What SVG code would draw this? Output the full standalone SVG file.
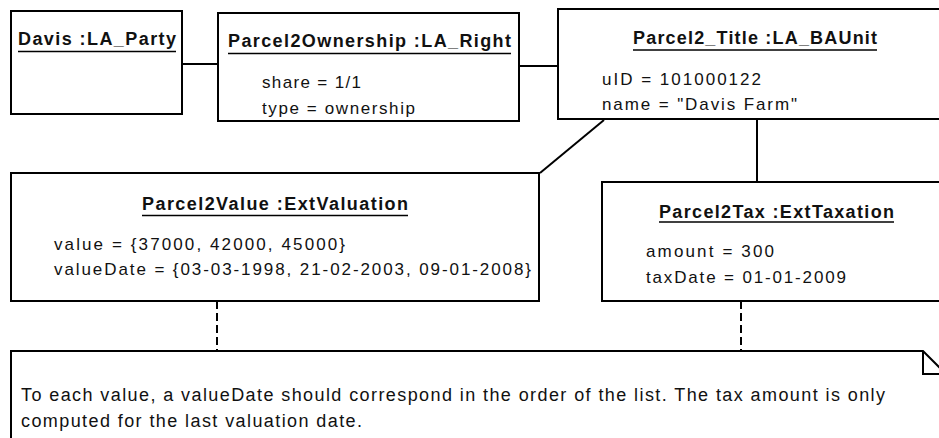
<svg xmlns="http://www.w3.org/2000/svg" width="939" height="438" viewBox="0 0 939 438">
<style>
.box{fill:#fff;stroke:#000;stroke-width:2}
.ul{stroke:#000;stroke-width:1.6}
.t{font-family:"Liberation Sans",Arial,sans-serif;font-weight:bold;font-size:18px;fill:#111}
.a{font-family:"Liberation Sans",Arial,sans-serif;font-size:17px;fill:#111}
.n{font-family:"Liberation Sans",Arial,sans-serif;font-size:18px;fill:#111}
.c{stroke:#000;stroke-width:2;fill:none}
.d{stroke:#000;stroke-width:2;fill:none;stroke-dasharray:8 4}
</style>
<rect width="939" height="438" fill="#fff"/>
<g id="connectors">
<line class="c" x1="182" y1="64" x2="218" y2="64"/>
<line class="c" x1="519" y1="66" x2="558" y2="66"/>
<line class="c" x1="604" y1="120" x2="540" y2="173"/>
<line class="c" x1="757" y1="119" x2="757" y2="182"/>
<line class="d" x1="217" y1="301" x2="217" y2="351"/>
<line class="d" x1="741" y1="301" x2="741" y2="351"/>
</g>
<g id="davis">
<rect class="box" x="11" y="11" width="171" height="103"/>
<text class="t" x="18" y="45" textLength="158" lengthAdjust="spacing">Davis :LA_Party</text>
<line class="ul" x1="18" y1="51.5" x2="176" y2="51.5"/>
</g>
<g id="ownership">
<rect class="box" x="218" y="13" width="301" height="108"/>
<text class="t" x="228" y="47" textLength="283" lengthAdjust="spacing">Parcel2Ownership :LA_Right</text>
<line class="ul" x1="228" y1="53.5" x2="511" y2="53.5"/>
<text class="a" x="262" y="87.5" textLength="99" lengthAdjust="spacing">share = 1/1</text>
<text class="a" x="262" y="113.5" textLength="153" lengthAdjust="spacing">type = ownership</text>
</g>
<g id="title">
<rect class="box" x="558" y="9" width="400" height="110"/>
<text class="t" x="633" y="44" textLength="244" lengthAdjust="spacing">Parcel2_Title :LA_BAUnit</text>
<line class="ul" x1="633" y1="50" x2="877" y2="50"/>
<text class="a" x="602" y="84.5" textLength="159" lengthAdjust="spacing">uID = 101000122</text>
<text class="a" x="602" y="109.5" textLength="195" lengthAdjust="spacing">name = "Davis Farm"</text>
</g>
<g id="value">
<rect class="box" x="11" y="173" width="528" height="128"/>
<text class="t" x="142" y="210" textLength="266" lengthAdjust="spacing">Parcel2Value :ExtValuation</text>
<line class="ul" x1="142" y1="215.5" x2="408" y2="215.5"/>
<text class="a" x="54" y="249.5" textLength="291" lengthAdjust="spacing">value = {37000, 42000, 45000}</text>
<text class="a" x="54" y="274.5" textLength="477" lengthAdjust="spacing">valueDate = {03-03-1998, 21-02-2003, 09-01-2008}</text>
</g>
<g id="tax">
<rect class="box" x="602" y="182" width="360" height="119"/>
<text class="t" x="659" y="218" textLength="235" lengthAdjust="spacing">Parcel2Tax :ExtTaxation</text>
<line class="ul" x1="659" y1="222" x2="894" y2="222"/>
<text class="a" x="646" y="257" textLength="128" lengthAdjust="spacing">amount = 300</text>
<text class="a" x="646" y="283" textLength="200" lengthAdjust="spacing">taxDate = 01-01-2009</text>
</g>
<g id="note">
<polygon class="box" points="11,351 923,351 946,374 946,460 11,460"/>
<polyline class="c" points="923,351 923,374 946,374"/>
<text class="n" x="21" y="401" textLength="864" lengthAdjust="spacing">To each value, a valueDate should correspond in the order of the list. The tax amount is only</text>
<text class="n" x="21" y="427" textLength="341" lengthAdjust="spacing">computed for the last valuation date.</text>
</g>
</svg>
